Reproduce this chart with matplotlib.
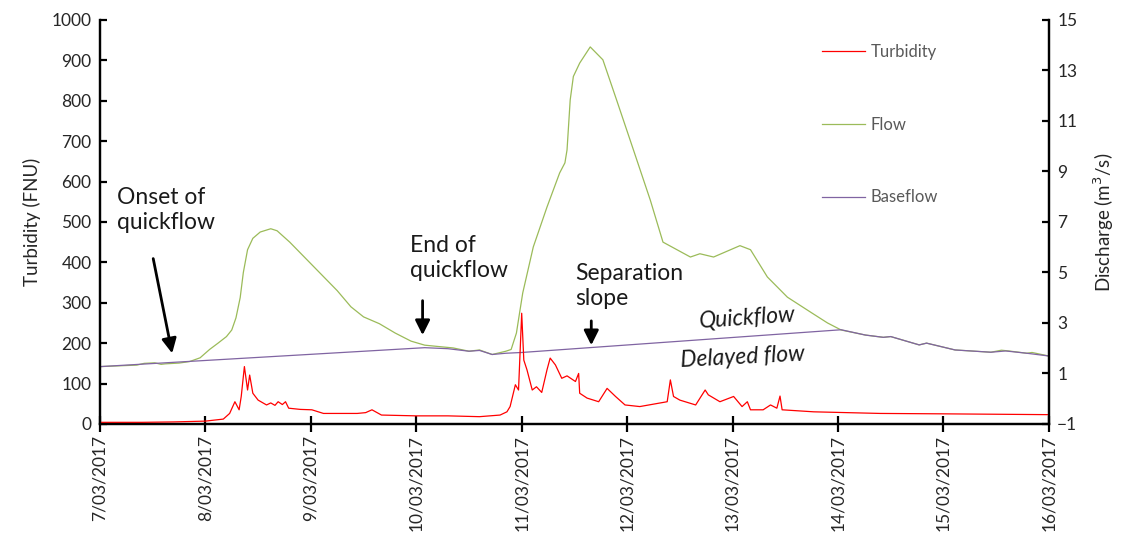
import matplotlib
matplotlib.use("Agg")
import matplotlib.pyplot as plt

plt.rcParams['font.family'] = ['Lato', 'DejaVu Sans']

# time is day of March 2017 (decimal days)
turb_day = [7.00, 7.40, 7.70, 7.85, 8.00, 8.17, 8.23, 8.28, 8.32, 8.34, 8.37, 8.40, 8.42,
            8.45, 8.50, 8.58, 8.62, 8.66, 8.69, 8.73, 8.76, 8.79, 8.90, 9.01, 9.12, 9.44,
            9.52, 9.58, 9.67, 10.00, 10.30, 10.60, 10.795, 10.86, 10.89, 10.94, 10.97,
            11.00, 11.02, 11.05, 11.10, 11.14, 11.19, 11.24, 11.27, 11.32, 11.38, 11.43,
            11.51, 11.54, 11.55, 11.62, 11.73, 11.81, 11.89, 11.98, 12.12, 12.38, 12.41,
            12.44, 12.50, 12.65, 12.74, 12.77, 12.88, 13.01, 13.09, 13.14, 13.17, 13.29,
            13.36, 13.42, 13.45, 13.47, 13.77, 14.40, 15.00, 15.50, 16.00]
turbidity = [4, 4, 5, 6, 7, 12, 26, 55, 35, 68, 142, 84, 121,
             76, 59, 47, 52, 46, 55, 48, 55, 39, 36, 35, 26, 26,
             28, 35, 22, 20, 20, 18, 22, 30, 43, 97, 84,
             274, 158, 134, 84, 92, 78, 134, 163, 146, 113, 119,
             105, 125, 76, 64, 55, 88, 68, 47, 43, 55, 109,
             68, 59, 47, 84, 72, 55, 68, 43, 55, 35, 35,
             47, 39, 69, 35, 30, 26, 25, 24, 23]

flow_day = [7.00, 7.35, 7.42, 7.52, 7.58, 7.62, 7.75, 7.85, 7.95, 8.04, 8.12, 8.20, 8.25,
            8.29, 8.33, 8.36, 8.40, 8.45, 8.52, 8.62, 8.68, 8.80, 8.95, 9.10, 9.25, 9.38,
            9.50, 9.65, 9.80, 9.95, 10.08, 10.20, 10.35, 10.50, 10.60, 10.72, 10.85, 10.90,
            10.95, 10.98, 11.01, 11.11, 11.24, 11.36, 11.41, 11.43, 11.46, 11.49, 11.55,
            11.65, 11.77, 11.90, 12.06, 12.22, 12.34, 12.60, 12.69, 12.82, 13.07, 13.17,
            13.33, 13.52, 13.75, 13.90, 14.03, 14.26, 14.43, 14.50, 14.77, 14.84, 15.11,
            15.45, 15.55, 15.62, 15.79, 15.84, 16.00]
flow = [1.27, 1.33, 1.40, 1.42, 1.36, 1.38, 1.41, 1.47, 1.62, 1.95, 2.20, 2.46, 2.72,
        3.20, 4.00, 5.00, 5.90, 6.35, 6.60, 6.73, 6.65, 6.20, 5.56, 4.92, 4.28, 3.64,
        3.24, 2.97, 2.60, 2.28, 2.12, 2.07, 2.01, 1.88, 1.93, 1.75, 1.88, 1.95,
        2.60, 3.40, 4.19, 6.01, 7.59, 8.94, 9.34, 9.85, 11.83, 12.76, 13.29,
        13.93, 13.42, 11.83, 9.85, 7.86, 6.20, 5.61, 5.74, 5.61, 6.06, 5.90,
        4.82, 4.02, 3.40, 3.00, 2.72, 2.52, 2.43, 2.46, 2.13, 2.20, 1.93,
        1.84, 1.92, 1.89, 1.80, 1.83, 1.69]

base_day = [7.00, 10.08, 10.30, 10.50, 10.60, 10.72, 10.85, 11.00, 14.03, 14.26, 14.43,
            14.50, 14.77, 14.84, 15.11, 15.45, 15.59, 15.79, 16.00]
baseflow = [1.27, 2.02, 1.98, 1.88, 1.91, 1.75, 1.80, 1.83, 2.73, 2.52, 2.43,
            2.46, 2.13, 2.20, 1.93, 1.84, 1.89, 1.80, 1.69]

tick_days = list(range(7, 17))
tick_labels = [f"{d}/03/2017" for d in tick_days]

fig = plt.figure(figsize=(11.23, 5.38), dpi=100)
ax = fig.add_axes([0.089, 0.212, 0.845, 0.751])
ax2 = ax.twinx()

l_turb, = ax.plot(turb_day, turbidity, color='#FF0000', lw=0.9)
l_flow, = ax2.plot(flow_day, flow, color='#9BBB59', lw=0.9)
l_base, = ax2.plot(base_day, baseflow, color='#8064A2', lw=0.9)
ax.set_zorder(ax2.get_zorder() + 1)
ax.patch.set_visible(False)

ax.set_xlim(7, 16)
ax.set_ylim(0, 1000)
ax.set_yticks(range(0, 1001, 100))
ax2.set_ylim(-1, 15)
ax2.set_yticks(range(-1, 16, 2))
ax.set_xticks(tick_days)
ax.set_xticklabels(tick_labels, rotation=90)

for a in (ax, ax2):
    a.spines['top'].set_visible(False)
    for s in ('left', 'right', 'bottom'):
        a.spines[s].set_linewidth(1.6)
        a.spines[s].set_color('black')
ax.tick_params(axis='y', direction='in', length=5, width=1.6, labelsize=12.5, colors='black',
               labelcolor='#262626', pad=6)
ax2.tick_params(axis='y', direction='in', length=5, width=1.6, labelsize=12.5, colors='black',
                labelcolor='#262626', pad=6)
ax.tick_params(axis='x', direction='inout', length=12, width=1.6, labelsize=12.5,
               labelcolor='#262626', pad=2)

ax.set_ylabel('Turbidity (FNU)', fontsize=13.5, color='#262626', labelpad=8)
ax2.set_ylabel('Discharge (m$^3$/s)', fontsize=13.5, color='#262626', labelpad=10)

# text labels and arrows marking the separation points
ann_kw = dict(fontsize=16.5, color='#1a1a1a', ha='left', va='top', linespacing=1.25)
ax.text(7.16, 587, 'Onset of\nquickflow', **ann_kw)
ax.text(9.94, 468, 'End of\nquickflow', **ann_kw)
ax.text(11.51, 399, 'Separation\nslope', **ann_kw)
arrow = dict(arrowstyle='-|>', color='black', lw=2, mutation_scale=22)
ax.annotate('', xy=(7.69, 168), xytext=(7.50, 416), arrowprops=arrow)
ax.annotate('', xy=(10.06, 213), xytext=(10.06, 312), arrowprops=arrow)
ax.annotate('', xy=(11.66, 188), xytext=(11.66, 262), arrowprops=arrow)
ax.text(13.14, 262, 'Quickflow', fontsize=16.5, style='italic', color='#1a1a1a',
        ha='center', va='center', rotation=4)
ax.text(13.09, 166, 'Delayed flow', fontsize=16.5, style='italic', color='#1a1a1a',
        ha='center', va='center', rotation=3)

leg = ax.legend([l_turb, l_flow, l_base], ['Turbidity', 'Flow', 'Baseflow'],
                loc='upper left', bbox_to_anchor=(0.761, 0.94), frameon=False,
                fontsize=12, labelspacing=3.4, handlelength=2.6, handletextpad=0.3,
                borderpad=0, borderaxespad=0)
for t in leg.get_texts():
    t.set_color('#595959')

fig.savefig('out.png', dpi=100)
